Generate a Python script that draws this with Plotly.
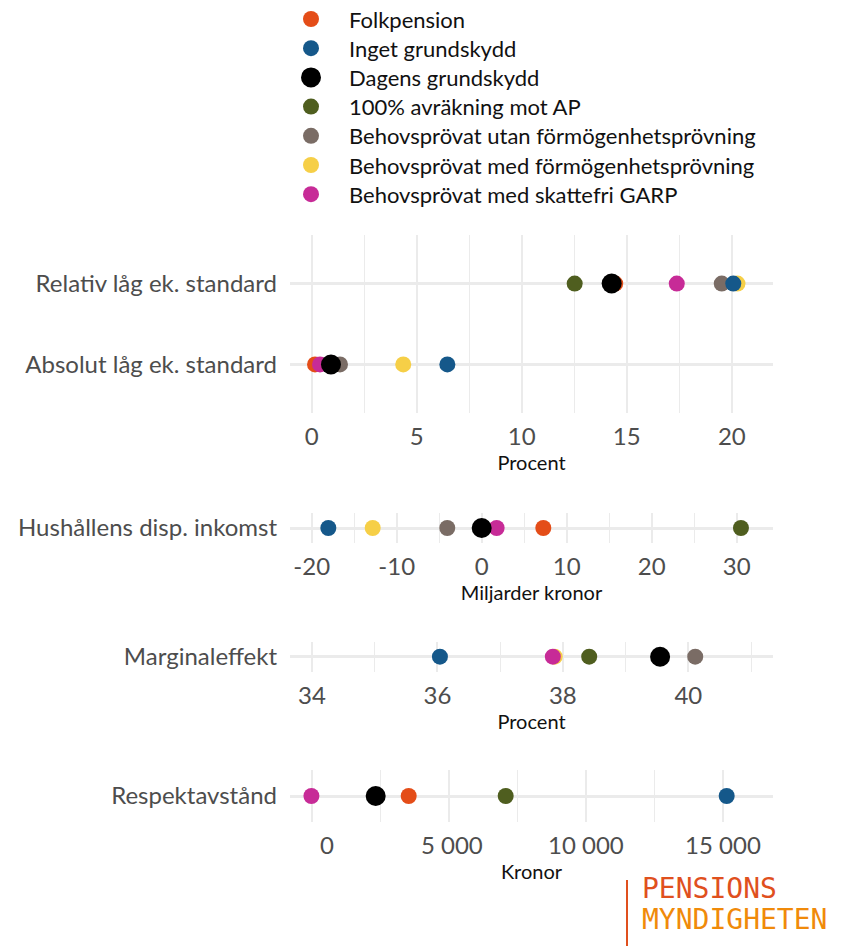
import plotly.graph_objects as go

W, H = 845, 947

scenarios = [
    "Folkpension",
    "Inget grundskydd",
    "Dagens grundskydd",
    "100% avräkning mot AP",
    "Behovsprövat utan förmögenhetsprövning",
    "Behovsprövat med förmögenhetsprövning",
    "Behovsprövat med skattefri GARP",
]
colors = ["#E44D18", "#15588A", "#000000", "#4F5E1F", "#7A6C65", "#F6CF47", "#C72B97"]

# values per scenario (same order as scenarios); None = not visible
relativ = [14.45, 20.07, 14.28, 12.52, 19.52, 20.27, 17.38]
absolut = [0.16, 6.46, 0.92, None, 1.35, 4.36, 0.40]
hushall = [7.25, -18.04, 0.0, 30.5, -4.05, -12.82, 1.76]
marginal = [None, 36.04, 39.55, 38.42, 40.11, 37.87, 37.84]
respekt = [3538, 15135, 2334, 7075, None, 2290, -10]

cat_p1 = ["Absolut låg ek. standard", "Relativ låg ek. standard"]
cat_p2 = ["Hushållens disp. inkomst"]
cat_p3 = ["Marginaleffekt"]
cat_p4 = ["Respektavstånd"]

ticks_p1 = [0, 5, 10, 15, 20]
ticktext_p1 = ["0", "5", "10", "15", "20"]
ticks_p2 = [-20, -10, 0, 10, 20, 30]
ticktext_p2 = ["-20", "-10", "0", "10", "20", "30"]
ticks_p3 = [34, 36, 38, 40]
ticktext_p3 = ["34", "36", "38", "40"]
ticks_p4 = [0, 5000, 10000, 15000]
ticktext_p4 = ["\u00a0\u00a0\u00a0\u00a0\u00a00", "\u00a05\u00a0000", "10\u00a0000", "15\u00a0000"]

minor_p1 = [2.5, 7.5, 12.5, 17.5]
minor_p2 = [-15, -5, 5, 15, 25]
minor_p3 = [35, 37, 39, 41]
minor_p4 = [2500, 7500, 12500]

draw_order = [5, 4, 0, 6, 3, 1, 2]

fig = go.Figure()

for i in draw_order:
    size = 20 if i == 2 else 16
    mk = dict(color=colors[i], size=size, line=dict(width=0))
    fig.add_trace(go.Scatter(x=[absolut[i], relativ[i]], y=cat_p1, mode="markers",
                             marker=mk, xaxis="x", yaxis="y", showlegend=False, name=scenarios[i]))
    fig.add_trace(go.Scatter(x=[hushall[i]], y=cat_p2, mode="markers",
                             marker=mk, xaxis="x2", yaxis="y2", showlegend=False, name=scenarios[i]))
    fig.add_trace(go.Scatter(x=[marginal[i]], y=cat_p3, mode="markers",
                             marker=mk, xaxis="x3", yaxis="y3", showlegend=False, name=scenarios[i]))
    fig.add_trace(go.Scatter(x=[respekt[i]], y=cat_p4, mode="markers",
                             marker=mk, xaxis="x4", yaxis="y4", showlegend=False, name=scenarios[i]))

FONT = "Lato"
GRID = "#EBEBEB"
TICKC = "#4D4D4D"
xdom = [290 / W, 773 / W]


def ydom(top, bottom):
    return [1 - bottom / H, 1 - top / H]


def xax(rng, tv, tt, mv, title, anchor):
    return dict(domain=xdom, range=rng, tickmode="array", tickvals=tv, ticktext=tt,
                showgrid=True, gridcolor=GRID, gridwidth=2, zeroline=False, showline=False,
                ticks="", ticklabelstandoff=7,
                tickfont=dict(family=FONT, size=24, color=TICKC),
                minor=dict(showgrid=True, gridcolor=GRID, gridwidth=1, tickmode="array", tickvals=mv),
                title=dict(text=title, font=dict(family=FONT, size=20, color="#111111"), standoff=0),
                anchor=anchor, fixedrange=True)


def yax(cats, dom, anchor):
    n = len(cats)
    return dict(domain=dom, type="category", categoryorder="array", categoryarray=cats,
                range=[-0.6, n - 1 + 0.6], showgrid=True, gridcolor=GRID, gridwidth=2.5,
                zeroline=False, showline=False, ticks="", ticklabelstandoff=12,
                tickfont=dict(family=FONT, size=24, color=TICKC), anchor=anchor, fixedrange=True)


fig.update_layout(
    width=W, height=H, margin=dict(l=0, r=0, t=0, b=0),
    paper_bgcolor="white", plot_bgcolor="white", showlegend=False,
    xaxis=xax([-1.03, 21.96], ticks_p1, ticktext_p1, minor_p1, "Procent", "y"),
    yaxis=yax(cat_p1, ydom(235, 413), "x"),
    xaxis2=xax([-22.55, 34.27], ticks_p2, ticktext_p2, minor_p2, "Miljarder kronor", "y2"),
    yaxis2=yax(cat_p2, ydom(513, 543), "x2"),
    xaxis3=xax([33.65, 41.35], ticks_p3, ticktext_p3, minor_p3, "Procent", "y3"),
    yaxis3=yax(cat_p3, ydom(641.7, 671.7), "x3"),
    xaxis4=xax([-791, 16824], ticks_p4, ticktext_p4, minor_p4, "Kronor", "y4"),
    yaxis4=yax(cat_p4, ydom(770, 822), "x4"),
)

# manual legend
shapes = []
annots = []
for k, name in enumerate(scenarios):
    cy = 19 + 29.2 * k
    r = 10 if k == 2 else 8
    shapes.append(dict(type="circle", xref="paper", yref="paper",
                       x0=(311 - r) / W, x1=(311 + r) / W,
                       y0=1 - (cy + r) / H, y1=1 - (cy - r) / H,
                       fillcolor=colors[k], line=dict(width=0)))
    annots.append(dict(text=name, xref="paper", yref="paper", x=347 / W, y=1 - cy / H,
                       xanchor="left", yanchor="middle", showarrow=False,
                       font=dict(family=FONT, size=22, color="#111111")))

# logo
shapes.append(dict(type="line", xref="paper", yref="paper", x0=627 / W, x1=627 / W,
                   y0=1 - 946 / H, y1=1 - 880 / H, line=dict(color="#E0501E", width=2)))
annots.append(dict(text="PENSIONS", xref="paper", yref="paper", x=640 / W, y=1 - 888 / H,
                   xanchor="left", yanchor="middle", showarrow=False,
                   font=dict(family="DejaVu Sans Mono", size=28, color="#E0501E")))
annots.append(dict(text="MYNDIGHETEN", xref="paper", yref="paper", x=640 / W, y=1 - 919 / H,
                   xanchor="left", yanchor="middle", showarrow=False,
                   font=dict(family="DejaVu Sans Mono", size=28, color="#F08A0A")))

fig.update_layout(shapes=shapes, annotations=annots)

fig.write_html("out.html", config={"displayModeBar": False},
               post_script="document.body.style.margin='0px';document.body.style.overflow='hidden';")
